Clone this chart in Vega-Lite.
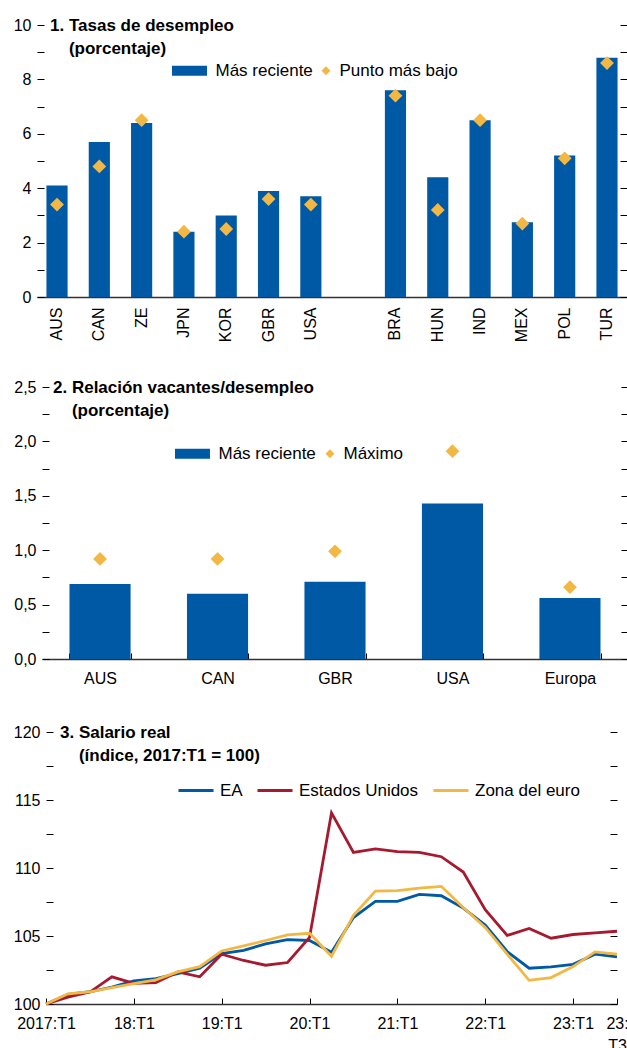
{
  "$schema": "https://vega.github.io/schema/vega-lite/v6.json",
  "padding": {"left": 0, "top": 17, "right": 0, "bottom": 0},
  "background": "white",
  "spacing": 10,
  "config": {
    "font": "Liberation Sans",
    "view": {"stroke": null},
    "axis": {"labelFont": "Liberation Sans", "labelFontSize": 16, "labelColor": "#000", "grid": false, "tickColor": "#000", "tickWidth": 1, "domainColor": "#333", "domainWidth": 1.5},
    "legend": {"labelFont": "Liberation Sans", "labelFontSize": 17, "labelColor": "#000"},
    "title": {"font": "Liberation Sans", "fontSize": 17, "fontWeight": "bold", "color": "#000", "anchor": "start", "frame": "group", "orient": "top", "offset": -35, "baseline": "alphabetic", "lineHeight": 23}
  },
  "resolve": {"scale": {"color": "independent", "shape": "independent"}, "legend": {"color": "independent", "shape": "independent"}},
  "vconcat": [
    {"spacing": 0, "hconcat": [
    {"width": 1, "height": 1, "data": {"values": []}, "mark": {"type": "point", "opacity": 0}},
    {
      "width": 590, "height": 272,
      "title": {"text": ["1. Tasas de desempleo", "\u200b\u00a0\u00a0\u00a0\u00a0(porcentaje)"], "dx": 13, "dy": 6},
      "data": {"values": [
        {"pais": "AUS", "serie": "Más reciente", "valor": 4.1}, {"pais": "AUS", "serie": "Punto más bajo", "valor": 3.4},
        {"pais": "CAN", "serie": "Más reciente", "valor": 5.7}, {"pais": "CAN", "serie": "Punto más bajo", "valor": 4.8},
        {"pais": "ZE", "serie": "Más reciente", "valor": 6.4}, {"pais": "ZE", "serie": "Punto más bajo", "valor": 6.5},
        {"pais": "JPN", "serie": "Más reciente", "valor": 2.4}, {"pais": "JPN", "serie": "Punto más bajo", "valor": 2.4},
        {"pais": "KOR", "serie": "Más reciente", "valor": 3.0}, {"pais": "KOR", "serie": "Punto más bajo", "valor": 2.5},
        {"pais": "GBR", "serie": "Más reciente", "valor": 3.9}, {"pais": "GBR", "serie": "Punto más bajo", "valor": 3.6},
        {"pais": "USA", "serie": "Más reciente", "valor": 3.7}, {"pais": "USA", "serie": "Punto más bajo", "valor": 3.4},
        {"pais": "BRA", "serie": "Más reciente", "valor": 7.6}, {"pais": "BRA", "serie": "Punto más bajo", "valor": 7.4},
        {"pais": "HUN", "serie": "Más reciente", "valor": 4.4}, {"pais": "HUN", "serie": "Punto más bajo", "valor": 3.2},
        {"pais": "IND", "serie": "Más reciente", "valor": 6.5}, {"pais": "IND", "serie": "Punto más bajo", "valor": 6.5},
        {"pais": "MEX", "serie": "Más reciente", "valor": 2.75}, {"pais": "MEX", "serie": "Punto más bajo", "valor": 2.7},
        {"pais": "POL", "serie": "Más reciente", "valor": 5.2}, {"pais": "POL", "serie": "Punto más bajo", "valor": 5.1},
        {"pais": "TUR", "serie": "Más reciente", "valor": 8.8}, {"pais": "TUR", "serie": "Punto más bajo", "valor": 8.6}
      ]},
      "layer": [
        {
          "transform": [{"filter": "datum.serie == 'Más reciente'"}],
          "mark": {"type": "bar"},
          "encoding": {
            "x": {"field": "pais", "type": "nominal", "sort": null,
                  "scale": {"domain": ["AUS", "CAN", "ZE", "JPN", "KOR", "GBR", "USA", " ", "BRA", "HUN", "IND", "MEX", "POL", "TUR"], "paddingInner": 0.5, "paddingOuter": 0.223},
                  "axis": {"title": null, "labelAngle": -90, "ticks": false, "tickSize": 0, "labelPadding": 10, "minExtent": 72, "maxExtent": 72}},
            "y": {"field": "valor", "type": "quantitative", "scale": {"domain": [0, 10], "nice": false},
                  "axis": {"orient": "left", "title": null, "values": [0,1,2,3,4,5,6,7,8,9,10], "labelExpr": "datum.value % 2 == 0 ? datum.label : ''", "domain": false, "tickSize": -7, "labelPadding": 13, "minExtent": 36, "maxExtent": 36}},
            "color": {"field": "serie", "type": "nominal",
                      "scale": {"domain": ["Más reciente", "Punto más bajo"], "range": ["#0059A5", "#F2B843"]},
                      "legend": {"orient": "none", "legendX": 193.5, "legendY": 37, "direction": "horizontal", "title": null, "symbolSize": 81, "symbolStrokeWidth": 0, "labelOffset": 5, "columnPadding": 4, "padding": 0}}
          }
        },
        {
          "transform": [{"filter": "datum.serie == 'Punto más bajo'"}],
          "mark": {"type": "point", "filled": true, "size": 190, "opacity": 1},
          "encoding": {
            "x": {"field": "pais", "type": "nominal", "sort": null,
                  "scale": {"domain": ["AUS", "CAN", "ZE", "JPN", "KOR", "GBR", "USA", " ", "BRA", "HUN", "IND", "MEX", "POL", "TUR"]}},
            "y": {"field": "valor", "type": "quantitative",
                  "axis": {"orient": "right", "title": null, "values": [0,1,2,3,4,5,6,7,8,9,10], "labels": false, "domain": false, "tickSize": -7, "minExtent": 0, "maxExtent": 0}},
            "color": {"field": "serie", "type": "nominal",
                      "legend": {"orient": "none", "legendX": 193.5, "legendY": 37, "direction": "horizontal", "title": null, "symbolSize": 81, "symbolStrokeWidth": 0, "labelOffset": 5, "columnPadding": 4, "padding": 0}},
            "shape": {"field": "serie", "type": "nominal",
                      "scale": {"domain": ["Más reciente", "Punto más bajo"], "range": ["M-6.67,-1.11H1.11V1.11H-6.67Z", "diamond"]},
                      "legend": {"orient": "none", "legendX": 193.5, "legendY": 37, "direction": "horizontal", "title": null, "symbolSize": 81, "symbolStrokeWidth": 0, "labelOffset": 5, "columnPadding": 4, "padding": 0}}
          }
        }
      ],
      "resolve": {"axis": {"y": "independent"}}
    }
    ]},
    {"spacing": 0, "hconcat": [
    {"width": 1, "height": 1, "data": {"values": []}, "mark": {"type": "point", "opacity": 0}},
    {
      "width": 586, "height": 272,
      "title": {"text": ["2. Relación vacantes/desempleo", "\u200b\u00a0\u00a0\u00a0\u00a0(porcentaje)"], "dx": 11, "dy": 6},
      "data": {"values": [
        {"pais": "AUS", "serie": "Más reciente", "valor": 0.69}, {"pais": "AUS", "serie": "Máximo", "valor": 0.92},
        {"pais": "CAN", "serie": "Más reciente", "valor": 0.6}, {"pais": "CAN", "serie": "Máximo", "valor": 0.92},
        {"pais": "GBR", "serie": "Más reciente", "valor": 0.71}, {"pais": "GBR", "serie": "Máximo", "valor": 0.99},
        {"pais": "USA", "serie": "Más reciente", "valor": 1.43}, {"pais": "USA", "serie": "Máximo", "valor": 1.91},
        {"pais": "Europa", "serie": "Más reciente", "valor": 0.56}, {"pais": "Europa", "serie": "Máximo", "valor": 0.66}
      ]},
      "layer": [
        {
          "transform": [{"filter": "datum.serie == 'Más reciente'"}],
          "mark": {"type": "bar"},
          "encoding": {
            "x": {"field": "pais", "type": "nominal", "sort": null,
                  "scale": {"domain": ["AUS", "CAN", "GBR", "USA", "Europa"], "paddingInner": 0.48, "paddingOuter": 0.234},
                  "axis": {"title": null, "labelAngle": 0, "tickBand": "extent", "ticks": true, "tickSize": -6, "labelPadding": 17, "minExtent": 55, "maxExtent": 55}},
            "y": {"field": "valor", "type": "quantitative", "scale": {"domain": [0, 2.5], "nice": false},
                  "axis": {"orient": "left", "title": null, "values": [0,0.25,0.5,0.75,1,1.25,1.5,1.75,2,2.25,2.5], "labelExpr": "(datum.value * 100) % 50 == 0 ? replace(format(datum.value, '.1f'), '.', ',') : ''", "domain": false, "tickSize": -7, "labelPadding": 13, "minExtent": 41, "maxExtent": 41}},
            "color": {"field": "serie", "type": "nominal",
                      "scale": {"domain": ["Más reciente", "Máximo"], "range": ["#0059A5", "#F2B843"]},
                      "legend": {"orient": "none", "legendX": 196.5, "legendY": 58, "direction": "horizontal", "title": null, "symbolSize": 81, "symbolStrokeWidth": 0, "labelOffset": 5, "columnPadding": 5, "padding": 0}}
          }
        },
        {
          "transform": [{"filter": "datum.serie == 'Máximo'"}],
          "mark": {"type": "point", "filled": true, "size": 190, "opacity": 1},
          "encoding": {
            "x": {"field": "pais", "type": "nominal", "sort": null,
                  "scale": {"domain": ["AUS", "CAN", "GBR", "USA", "Europa"]}},
            "y": {"field": "valor", "type": "quantitative",
                  "axis": {"orient": "right", "title": null, "values": [0,0.25,0.5,0.75,1,1.25,1.5,1.75,2,2.25,2.5], "labels": false, "domain": false, "tickSize": -7, "minExtent": 0, "maxExtent": 0}},
            "color": {"field": "serie", "type": "nominal",
                      "legend": {"orient": "none", "legendX": 196.5, "legendY": 58, "direction": "horizontal", "title": null, "symbolSize": 81, "symbolStrokeWidth": 0, "labelOffset": 5, "columnPadding": 5, "padding": 0}},
            "shape": {"field": "serie", "type": "nominal",
                      "scale": {"domain": ["Más reciente", "Máximo"], "range": ["M-6.67,-1.11H1.11V1.11H-6.67Z", "diamond"]},
                      "legend": {"orient": "none", "legendX": 196.5, "legendY": 58, "direction": "horizontal", "title": null, "symbolSize": 81, "symbolStrokeWidth": 0, "labelOffset": 5, "columnPadding": 5, "padding": 0}}
          }
        }
      ],
      "resolve": {"axis": {"y": "independent"}}
    }
    ]},
    {"spacing": 0, "hconcat": [
    {"width": 1, "height": 1, "data": {"values": []}, "mark": {"type": "point", "opacity": 0}},
    {
      "width": 571, "height": 272,
      "title": {"text": ["3. Salario real", "\u200b\u00a0\u00a0\u00a0\u00a0(índice, 2017:T1 = 100)"], "dx": 14, "dy": 6},
      "data": {"values": [
        {"t": "2017:T1", "serie": "EA", "valor": 100}, {"t": "2017:T1", "serie": "Estados Unidos", "valor": 100}, {"t": "2017:T1", "serie": "Zona del euro", "valor": 100},
        {"t": "2017:T2", "serie": "EA", "valor": 100.7}, {"t": "2017:T2", "serie": "Estados Unidos", "valor": 100.5}, {"t": "2017:T2", "serie": "Zona del euro", "valor": 100.75},
        {"t": "2017:T3", "serie": "EA", "valor": 100.9}, {"t": "2017:T3", "serie": "Estados Unidos", "valor": 100.88}, {"t": "2017:T3", "serie": "Zona del euro", "valor": 100.9},
        {"t": "2017:T4", "serie": "EA", "valor": 101.25}, {"t": "2017:T4", "serie": "Estados Unidos", "valor": 102.0}, {"t": "2017:T4", "serie": "Zona del euro", "valor": 101.2},
        {"t": "2018:T1", "serie": "EA", "valor": 101.7}, {"t": "2018:T1", "serie": "Estados Unidos", "valor": 101.52}, {"t": "2018:T1", "serie": "Zona del euro", "valor": 101.5},
        {"t": "2018:T2", "serie": "EA", "valor": 101.87}, {"t": "2018:T2", "serie": "Estados Unidos", "valor": 101.57}, {"t": "2018:T2", "serie": "Zona del euro", "valor": 101.77},
        {"t": "2018:T3", "serie": "EA", "valor": 102.24}, {"t": "2018:T3", "serie": "Estados Unidos", "valor": 102.36}, {"t": "2018:T3", "serie": "Zona del euro", "valor": 102.36},
        {"t": "2018:T4", "serie": "EA", "valor": 102.63}, {"t": "2018:T4", "serie": "Estados Unidos", "valor": 102.0}, {"t": "2018:T4", "serie": "Zona del euro", "valor": 102.75},
        {"t": "2019:T1", "serie": "EA", "valor": 103.7}, {"t": "2019:T1", "serie": "Estados Unidos", "valor": 103.66}, {"t": "2019:T1", "serie": "Zona del euro", "valor": 103.9},
        {"t": "2019:T2", "serie": "EA", "valor": 103.95}, {"t": "2019:T2", "serie": "Estados Unidos", "valor": 103.2}, {"t": "2019:T2", "serie": "Zona del euro", "valor": 104.27},
        {"t": "2019:T3", "serie": "EA", "valor": 104.42}, {"t": "2019:T3", "serie": "Estados Unidos", "valor": 102.85}, {"t": "2019:T3", "serie": "Zona del euro", "valor": 104.67},
        {"t": "2019:T4", "serie": "EA", "valor": 104.74}, {"t": "2019:T4", "serie": "Estados Unidos", "valor": 103.05}, {"t": "2019:T4", "serie": "Zona del euro", "valor": 105.08},
        {"t": "2020:T1", "serie": "EA", "valor": 104.67}, {"t": "2020:T1", "serie": "Estados Unidos", "valor": 104.89}, {"t": "2020:T1", "serie": "Zona del euro", "valor": 105.2},
        {"t": "2020:T2", "serie": "EA", "valor": 103.81}, {"t": "2020:T2", "serie": "Estados Unidos", "valor": 114.05}, {"t": "2020:T2", "serie": "Zona del euro", "valor": 103.51},
        {"t": "2020:T3", "serie": "EA", "valor": 106.36}, {"t": "2020:T3", "serie": "Estados Unidos", "valor": 111.15}, {"t": "2020:T3", "serie": "Zona del euro", "valor": 106.53},
        {"t": "2020:T4", "serie": "EA", "valor": 107.54}, {"t": "2020:T4", "serie": "Estados Unidos", "valor": 111.4}, {"t": "2020:T4", "serie": "Zona del euro", "valor": 108.3},
        {"t": "2021:T1", "serie": "EA", "valor": 107.54}, {"t": "2021:T1", "serie": "Estados Unidos", "valor": 111.2}, {"t": "2021:T1", "serie": "Zona del euro", "valor": 108.33},
        {"t": "2021:T2", "serie": "EA", "valor": 108.06}, {"t": "2021:T2", "serie": "Estados Unidos", "valor": 111.15}, {"t": "2021:T2", "serie": "Zona del euro", "valor": 108.52},
        {"t": "2021:T3", "serie": "EA", "valor": 107.96}, {"t": "2021:T3", "serie": "Estados Unidos", "valor": 110.83}, {"t": "2021:T3", "serie": "Zona del euro", "valor": 108.65},
        {"t": "2021:T4", "serie": "EA", "valor": 107.05}, {"t": "2021:T4", "serie": "Estados Unidos", "valor": 109.7}, {"t": "2021:T4", "serie": "Zona del euro", "valor": 107.1},
        {"t": "2022:T1", "serie": "EA", "valor": 105.8}, {"t": "2022:T1", "serie": "Estados Unidos", "valor": 106.93}, {"t": "2022:T1", "serie": "Zona del euro", "valor": 105.63},
        {"t": "2022:T2", "serie": "EA", "valor": 103.86}, {"t": "2022:T2", "serie": "Estados Unidos", "valor": 105.04}, {"t": "2022:T2", "serie": "Zona del euro", "valor": 103.66},
        {"t": "2022:T3", "serie": "EA", "valor": 102.63}, {"t": "2022:T3", "serie": "Estados Unidos", "valor": 105.55}, {"t": "2022:T3", "serie": "Zona del euro", "valor": 101.74},
        {"t": "2022:T4", "serie": "EA", "valor": 102.73}, {"t": "2022:T4", "serie": "Estados Unidos", "valor": 104.84}, {"t": "2022:T4", "serie": "Zona del euro", "valor": 101.94},
        {"t": "2023:T1", "serie": "EA", "valor": 102.92}, {"t": "2023:T1", "serie": "Estados Unidos", "valor": 105.11}, {"t": "2023:T1", "serie": "Zona del euro", "valor": 102.75},
        {"t": "2023:T2", "serie": "EA", "valor": 103.66}, {"t": "2023:T2", "serie": "Estados Unidos", "valor": 105.23}, {"t": "2023:T2", "serie": "Zona del euro", "valor": 103.83},
        {"t": "2023:T3", "serie": "EA", "valor": 103.46}, {"t": "2023:T3", "serie": "Estados Unidos", "valor": 105.35}, {"t": "2023:T3", "serie": "Zona del euro", "valor": 103.66}
      ]},
      "layer": [
        {
          "mark": {"type": "line", "strokeWidth": 2.8},
          "encoding": {
            "x": {"field": "t", "type": "ordinal", "sort": null, "scale": {"type": "point", "padding": 0},
                  "axis": {"title": null, "labelAngle": 0, "values": ["2017:T1", "2018:T1", "2019:T1", "2020:T1", "2021:T1", "2022:T1", "2023:T1", "2023:T3"],
                           "labelExpr": "datum.value == '2017:T1' ? '2017:T1' : (datum.value == '2023:T3' ? ['23:', 'T3'] : slice(datum.value, 2))",
                           "tickSize": -6, "labelPadding": 17, "labelLineHeight": 22}},
            "y": {"field": "valor", "type": "quantitative", "scale": {"domain": [100, 120], "nice": false},
                  "axis": {"orient": "left", "title": null, "values": [100,102.5,105,107.5,110,112.5,115,117.5,120], "labelExpr": "datum.value % 5 == 0 ? datum.label : ''", "domain": false, "tickSize": -7, "labelPadding": 13, "minExtent": 45, "maxExtent": 45}},
            "color": {"field": "serie", "type": "nominal",
                      "scale": {"domain": ["EA", "Estados Unidos", "Zona del euro"], "range": ["#0059A5", "#A6192E", "#F2B843"]},
                      "legend": {"orient": "none", "legendX": 177, "legendY": 39.5, "direction": "horizontal", "title": null, "symbolType": "stroke", "symbolSize": 1225, "symbolStrokeWidth": 3, "labelOffset": 5, "columnPadding": 8, "padding": 0}}
          }
        },
        {
          "mark": {"type": "line", "strokeWidth": 0, "opacity": 0},
          "encoding": {
            "x": {"field": "t", "type": "ordinal", "sort": null},
            "y": {"field": "valor", "type": "quantitative",
                  "axis": {"orient": "right", "title": null, "values": [100,102.5,105,107.5,110,112.5,115,117.5,120], "labels": false, "domain": false, "tickSize": -7, "minExtent": 0, "maxExtent": 0}},
            "detail": {"field": "serie"}
          }
        }
      ],
      "resolve": {"axis": {"y": "independent"}}
    }
    ]}
  ]
}
